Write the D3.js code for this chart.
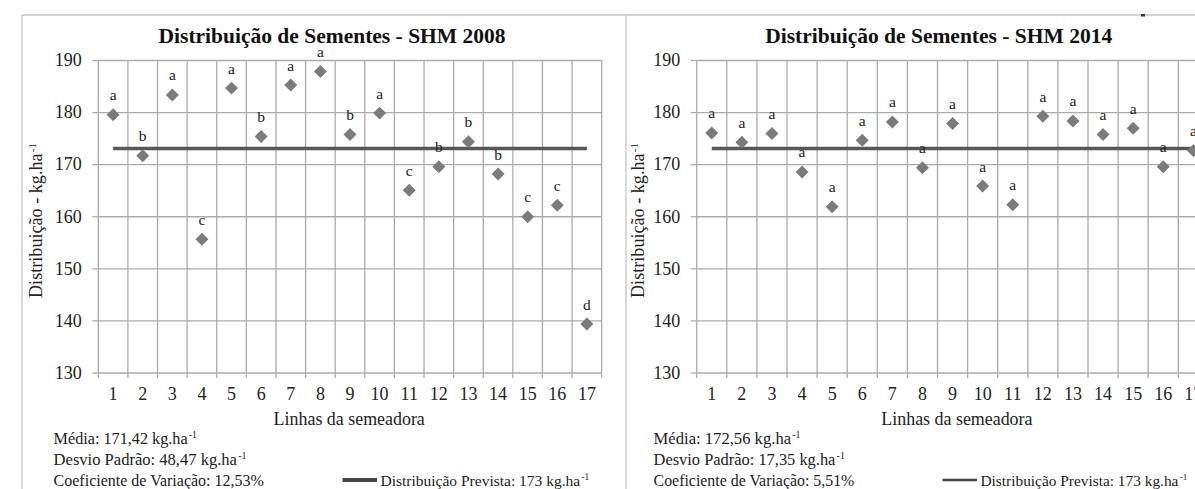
<!DOCTYPE html>
<html><head><meta charset="utf-8">
<script src="https://cdn.jsdelivr.net/npm/d3@7"></script>
<style>
body{margin:0;background:#fff;}
svg{display:block;font-family:"Liberation Serif","Times New Roman",serif;}
svg text{font-family:"Liberation Serif","Times New Roman",serif;}
</style>
</head><body>
<svg id="c" width="1195" height="489"></svg>
<script>
// ---------- data ----------
const categories = ["1","2","3","4","5","6","7","8","9","10","11","12","13","14","15","16","17"];
const values2008 = [179.5,171.6,183.3,155.6,184.6,175.3,185.2,187.8,175.7,179.8,165.0,169.5,174.3,168.1,159.9,162.1,139.3];
const letters2008 = ["a","b","a","c","a","b","a","a","b","a","c","b","b","b","c","c","d"];
const values2014 = [176.0,174.2,175.9,168.5,161.8,174.6,178.1,169.3,177.8,165.8,162.2,179.2,178.3,175.7,176.9,169.5,172.6];
const letters2014 = ["a","a","a","a","a","a","a","a","a","a","a","a","a","a","a","a","a"];
const yTicks = [130,140,150,160,170,180,190];
const predicted = 173;
const titles = ["Distribuição  de Sementes - SHM 2008","Distribuição  de Sementes - SHM 2014"];
const xAxisTitle = "Linhas  da semeadora";
const yAxisTitle = ["Distribuição - kg.ha","-1"];
const stats2008 = [["Média: 171,42 kg.ha","-1"],["Desvio Padrão: 48,47 kg.ha","-1"],["Coeficiente de Variação: 12,53%",""]];
const stats2014 = [["Média: 172,56 kg.ha","-1"],["Desvio Padrão: 17,35 kg.ha","-1"],["Coeficiente de Variação: 5,51%",""]];
const legendLabel = ["Distribuição Prevista: 173 kg.ha","-1"];

// ---------- layout ----------
const panels = [
  {values:values2008, letters:letters2008, title:titles[0], stats:stats2008,
   x0:98.3, x1:601.7, titleX:332, yLabelX:42, statX:53.6, statW:[141.6,191,210.5],
   legLine:[342.5,377], legText:[380.5,588], xTitleX:[273.6,424.8], legendStroke:4},
  {values:values2014, letters:letters2014, title:titles[1], stats:stats2014,
   x0:696.7, x1:1208.4, titleX:938.7, yLabelX:643.5, statX:653.6, statW:[145,189.4,201],
   legLine:[942.5,977], legText:[980.5,1186], xTitleX:[881.3,1032.5], legendStroke:2.5}
];
const yTop = 60, yBot = 372.5;
const gridColor = "#ababab", textColor = "#222";
const serif = "'Liberation Serif','Times New Roman',serif";

const svg = d3.select("#c");

// frame
svg.append("line").attr("x1",22).attr("x2",1195).attr("y1",15).attr("y2",15).attr("stroke","#c4c4c4").attr("stroke-width",1.3);
svg.append("line").attr("x1",22).attr("x2",22).attr("y1",15).attr("y2",489).attr("stroke","#c4c4c4").attr("stroke-width",1.3);
svg.append("line").attr("x1",626).attr("x2",626).attr("y1",15).attr("y2",489).attr("stroke","#c4c4c4").attr("stroke-width",1.3);
svg.append("rect").attr("x",1141).attr("y",14).attr("width",4).attr("height",2.5).attr("fill","#333");

// main text sized to fit its measured width, superscript as its own text right after it
function supText(g, parts, x, y, size, width){
  const supW = parts[1] ? 7.5 : 0;
  const mainW = width - supW;
  const t = g.append("text").attr("x",x).attr("y",y).attr("font-size",size)
    .attr("font-family",serif).attr("fill",textColor).text(parts[0]);
  const len = t.node().getComputedTextLength();
  const fs = Math.min(size*1.1, size*mainW/len);
  t.attr("font-size",fs);
  const realW = t.node().getComputedTextLength();
  if (parts[1]) {
    g.append("text").attr("x",x+realW+1.2).attr("y",y-6).attr("font-size",fs*0.6)
      .attr("font-family",serif).attr("fill",textColor).text(parts[1]);
  }
  return t;
}

panels.forEach(p => {
  const g = svg.append("g");
  const x = d3.scaleBand().domain(categories).range([p.x0,p.x1]).padding(0);
  const y = d3.scaleLinear().domain([130,190]).range([yBot,yTop]);
  const bw = x.bandwidth();

  // horizontal grid
  g.append("g").attr("transform",`translate(${p.x0},0)`)
    .call(d3.axisLeft(y).tickValues(yTicks).tickSize(-(p.x1-p.x0)).tickFormat(""))
    .call(s=>{s.select(".domain").remove(); s.selectAll("line").attr("stroke",gridColor).attr("stroke-width",1.3);});
  // y axis ticks + labels
  g.append("g").attr("transform",`translate(${p.x0},0)`)
    .call(d3.axisLeft(y).tickValues(yTicks).tickSizeInner(6).tickSizeOuter(0).tickPadding(10.5))
    .call(s=>{s.attr("font-family",serif).select(".domain").remove();
      s.selectAll("line").attr("stroke",gridColor).attr("stroke-width",1.3);
      s.selectAll("text").attr("font-size",18).attr("fill",textColor).attr("font-family",serif);});

  // vertical grid at category boundaries
  const bounds = categories.map(c => x(c)).concat([x(categories[categories.length-1])+bw]);
  g.selectAll("line.vg").data(bounds).join("line").attr("class","vg")
    .attr("x1",d=>d).attr("x2",d=>d).attr("y1",y(190)).attr("y2",y(130)+5.5)
    .attr("stroke",gridColor).attr("stroke-width",1.3);

  // x axis labels
  g.append("g").attr("transform",`translate(0,${yBot})`)
    .call(d3.axisBottom(x).tickSize(0).tickPadding(15))
    .call(s=>{s.attr("font-family",serif).select(".domain").remove();
      s.selectAll("text").attr("font-size",18).attr("fill",textColor).attr("font-family",serif);});

  // predicted line
  g.append("line")
    .attr("x1",x(categories[0])+bw/2).attr("x2",x(categories[categories.length-1])+bw/2)
    .attr("y1",y(predicted)).attr("y2",y(predicted))
    .attr("stroke","#575757").attr("stroke-width",3.6);

  // diamonds
  const sq = d3.symbol().type(d3.symbolSquare).size(84);
  g.selectAll("path.pt").data(p.values).join("path").attr("class","pt")
    .attr("d",sq())
    .attr("transform",(d,i)=>`translate(${x(categories[i])+bw/2},${y(d)}) rotate(45)`)
    .attr("fill","#7b7b7b");

  // letters
  g.selectAll("text.lt").data(p.values).join("text").attr("class","lt")
    .attr("x",(d,i)=>x(categories[i])+bw/2).attr("y",d=>y(d)-14.5)
    .attr("text-anchor","middle").attr("font-size",15.5).attr("font-family",serif).attr("fill",textColor)
    .text((d,i)=>p.letters[i]);

  // title
  g.append("text").attr("x",p.titleX).attr("y",43.3).attr("text-anchor","middle")
    .attr("font-size",21.5).attr("font-weight","bold").attr("font-family",serif).attr("fill","#111").text(p.title);

  // x axis title
  g.append("text").attr("x",p.xTitleX[0]).attr("y",425).attr("font-size",18).attr("font-family",serif).attr("fill",textColor)
    .attr("textLength",p.xTitleX[1]-p.xTitleX[0]).attr("lengthAdjust","spacingAndGlyphs").text(xAxisTitle);

  // y axis title
  const yl = g.append("g").attr("transform",`translate(${p.yLabelX},${219}) rotate(-90)`);
  supText(yl, yAxisTitle, -79, 0, 16.5, 158);

  // stats
  const statY = [443.5, 465, 485.5];
  p.stats.forEach((s,i)=>{ supText(g, s, p.statX, statY[i], 17, p.statW[i]); });

  // legend
  g.append("line").attr("x1",p.legLine[0]).attr("x2",p.legLine[1]).attr("y1",480).attr("y2",480)
    .attr("stroke","#444").attr("stroke-width",p.legendStroke);
  supText(g, legendLabel, p.legText[0], 485.5, 16.5, p.legText[1]-p.legText[0]);
});
</script>
</body></html>
